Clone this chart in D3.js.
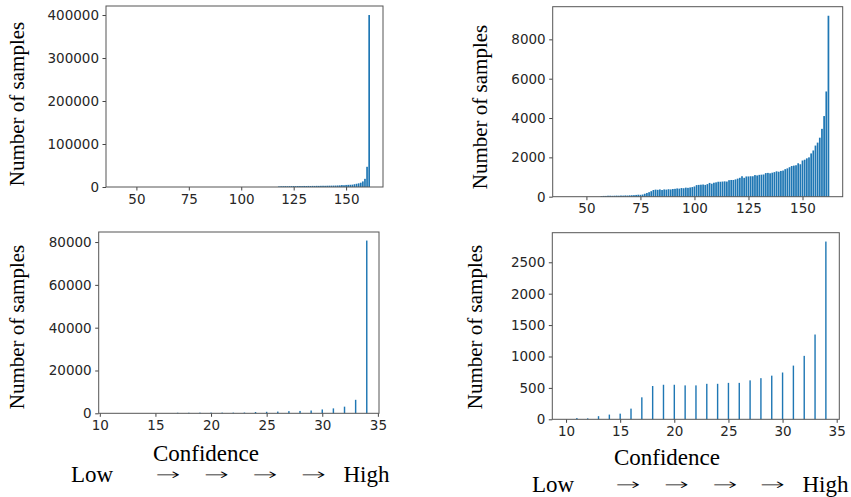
<!DOCTYPE html>
<html><head><meta charset="utf-8">
<script src="https://cdn.jsdelivr.net/npm/d3@7"></script>
<style>body{margin:0;background:#fff}svg{display:block}</style>
</head><body><svg id="c" width="851" height="497"></svg>
<script>
// ---- data ----
const tlX = [118,119,120,121,122,123,124,125,126,127,128,129,130,131,132,133,134,135,136,137,138,139,140,141,142,143,144,145,146,147,148,149,150,151,152,153,154,155,156,157,158,159,160,161];
const tlY = [1500,1800,1800,2000,1800,2000,2100,2200,2000,2200,2300,2200,2400,2300,2500,2400,2600,2500,2700,2600,2800,2900,2800,3000,3100,3200,3300,3400,3600,3800,4500,4200,4800,5000,5200,5500,6500,7500,8500,10000,13000,19000,47000,400000];

const trX = [57,58,59,60,61,62,63,64,65,66,67,68,69,70,71,72,73,74,75,76,77,78,79,80,81,82,83,84,85,86,87,88,89,90,91,92,93,94,95,96,97,98,99,100,101,102,103,104,105,106,107,108,109,110,111,112,113,114,115,116,117,118,119,120,121,122,123,124,125,126,127,128,129,130,131,132,133,134,135,136,137,138,139,140,141,142,143,144,145,146,147,148,149,150,151,152,153,154,155,156,157,158,159,160,161,162];
const trY = [30,40,40,50,50,45,50,55,50,60,55,65,60,70,75,80,90,100,95,110,150,190,230,280,340,360,350,370,340,370,360,380,370,390,400,420,410,440,430,460,450,470,490,520,590,600,610,620,600,640,700,660,710,730,760,760,770,780,770,840,850,850,880,920,960,1040,960,1030,1030,1040,1040,1100,1080,1110,1120,1130,1200,1210,1190,1220,1250,1290,1270,1310,1330,1400,1440,1500,1560,1580,1600,1700,1650,1840,1880,1950,2000,2200,2350,2600,2750,3000,3450,4100,5350,9200];

const blX = [17,18,19,20,21,22,23,24,25,26,27,28,29,30,31,32,33,34];
const blY = [250,250,300,300,300,300,350,600,700,800,1000,1100,1300,1800,2300,3100,6300,80700];

const brX = [11,12,13,14,15,16,17,18,19,20,21,22,23,24,25,26,27,28,29,30,31,32,33,34];
const brY = [20,15,50,75,90,170,350,530,550,550,540,540,565,565,580,580,620,655,695,745,855,1010,1350,2830];

const topXTicks = [50,75,100,125,150];
const botXTicks = [10,15,20,25,30,35];
const tlYTicks = [0,100000,200000,300000,400000];
const trYTicks = [0,2000,4000,6000,8000];
const blYTicks = [0,20000,40000,60000,80000];
const brYTicks = [0,500,1000,1500,2000,2500];

const yLabel = "Number of samples";
const xLabel = "Confidence";
const scaleWords = ["Low","→","→","→","→","High"];

// ---- drawing ----
const svg = d3.select("#c");
const BAR = "#1f77b4";
const tickFont = "'DejaVu Sans', sans-serif";
const serif = "'Liberation Serif', 'Times New Roman', serif";

function panel(cfg){
  const x = d3.scaleLinear().domain(cfg.xd).range([cfg.l, cfg.r]);
  const y = d3.scaleLinear().domain(cfg.yd).range([cfg.b, cfg.t]);
  const g = svg.append("g");
  const bw = x(cfg.bw) - x(0);
  g.selectAll("rect").data(cfg.xs).join("rect")
    .attr("x", (d)=> x(d) - bw/2)
    .attr("width", bw)
    .attr("y", (d,i)=> y(cfg.ys[i]))
    .attr("height", (d,i)=> y(0) - y(cfg.ys[i]))
    .attr("fill", BAR);
  const xa = g.append("g").attr("transform", `translate(0,${cfg.b})`)
    .call(d3.axisBottom(x).tickValues(cfg.xt).tickSize(3.5).tickPadding(3.5).tickFormat(d3.format("d")));
  const ya = g.append("g").attr("transform", `translate(${cfg.l},0)`)
    .call(d3.axisLeft(y).tickValues(cfg.yt).tickSize(3.5).tickPadding(3.5).tickFormat(d3.format("d")));
  [xa, ya].forEach(a => {
    a.select(".domain").remove();
    a.selectAll("line").attr("stroke", "#444");
    a.selectAll("text").attr("fill", "#262626").style("font-family", tickFont).style("font-size", "13.5px");
  });
  g.append("rect").attr("x", cfg.l).attr("y", cfg.t).attr("width", cfg.r-cfg.l).attr("height", cfg.b-cfg.t)
    .attr("fill", "none").attr("stroke", "#555").attr("stroke-width", 1);
  g.append("text").attr("transform", `translate(${cfg.ylx},${cfg.yly}) rotate(-90)`)
    .attr("text-anchor", "middle").style("font-family", serif).style("font-size", "21px").attr("fill", "#000")
    .text(yLabel);
  if (cfg.bottom) {
    g.append("text").attr("x", cfg.cx).attr("y", cfg.cy).attr("text-anchor", "middle")
      .style("font-family", serif).style("font-size", "23px").attr("fill", "#000").text(xLabel);
    scaleWords.forEach((word, i) => {
      const t = g.append("text").attr("fill", "#000").attr("text-anchor", "middle").text(word);
      if (word === "→") {
        t.attr("transform", `translate(${cfg.wx[i]},${cfg.ay}) scale(1.85,1)`)
          .style("font-family", "'DejaVu Sans', sans-serif").style("font-size", "16px").style("font-weight", "300");
      } else {
        t.attr("x", cfg.wx[i]).attr("y", cfg.wy)
          .style("font-family", serif).style("font-size", "23px");
      }
    });
  }
}

panel({l:106, r:383, t:6, b:187, xd:[35.5,167.6], yd:[0,421000], xs:tlX, ys:tlY, bw:0.8,
  xt:topXTicks, yt:tlYTicks, ylx:24, yly:104});
panel({l:552.7, r:842.7, t:6.7, b:196.7, xd:[34.4,168.6], yd:[0,9660], xs:trX, ys:trY, bw:0.8,
  xt:topXTicks, yt:trYTicks, ylx:487, yly:107});
panel({l:98.7, r:379, t:232, b:413.3, xd:[9.9,35.1], yd:[0,84700], xs:blX, ys:blY, bw:0.13,
  xt:botXTicks, yt:blYTicks, ylx:24, yly:327, bottom:true, cx:206, cy:460.5,
  wx:[92,168,216.5,265,313.5,366.5], wy:482, ay:479.5});
panel({l:552.3, r:839.3, t:232.7, b:419.3, xd:[8.73,35.24], yd:[0,2971], xs:brX, ys:brY, bw:0.13,
  xt:botXTicks, yt:brYTicks, ylx:482, yly:327, bottom:true, cx:667, cy:465,
  wx:[553,628,676.5,725,772.5,825.5], wy:491.5, ay:490});
</script></body></html>
